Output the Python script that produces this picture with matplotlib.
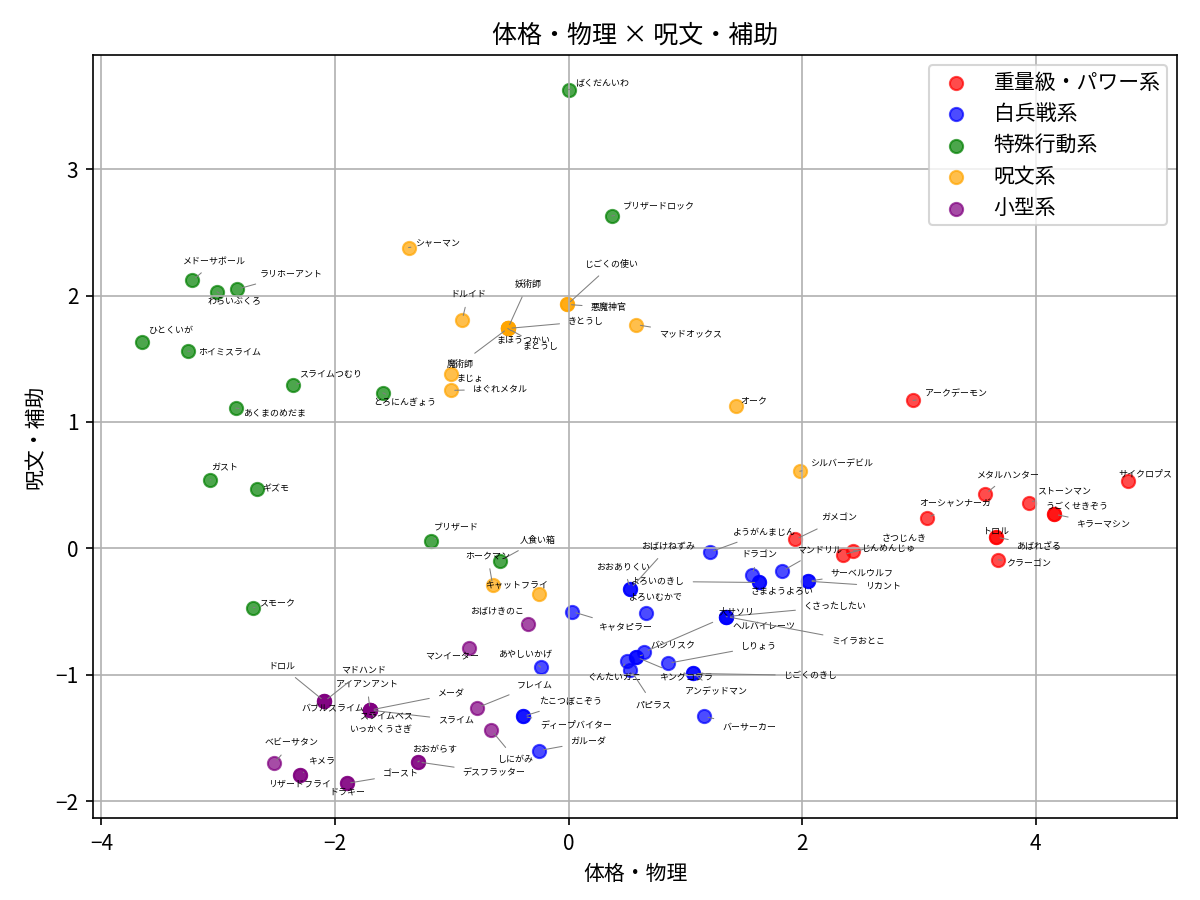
import matplotlib
matplotlib.use("Agg")
import matplotlib.pyplot as plt

plt.rcParams['font.family'] = ['Noto Sans CJK JP', 'DejaVu Sans']

# 重量級・パワー系
heavy_names = ['アークデーモン', 'サイクロプス', 'メタルハンター', 'ストーンマン', 'うごくせきぞう',
               'キラーマシン', 'オーシャンナーガ', 'トロル', 'あばれざる', 'クラーゴン',
               'ガメゴン', 'さつじんき', 'じんめんじゅ']
heavy_x = [2.95, 4.79, 3.57, 3.94, 4.16, 4.16, 3.07, 3.66, 3.66, 3.68, 1.94, 2.35, 2.44]
heavy_y = [1.17, 0.53, 0.43, 0.36, 0.27, 0.27, 0.24, 0.09, 0.09, -0.09, 0.07, -0.05, -0.02]

# 白兵戦系
melee_names = ['ようがんまじん', 'マンドリル', 'ドラゴン', 'よろいのきし', 'さまようよろい',
               'サーベルウルフ', 'リカント', 'おおありくい', 'おばけねずみ', 'よろいむかで',
               'キャタピラー', 'くさったしたい', 'ヘルバイレーツ', 'ミイラおとこ', '大サソリ',
               'バシリスク', 'キングコブラ', 'ぐんたいガニ', 'パピラス', 'しりょう',
               'じごくのきし', 'アンデッドマン', 'バーサーカー', 'あやしいかげ',
               'たこつぼこぞう', 'ディープバイター', 'ガルーダ']
melee_x = [1.21, 1.83, 1.57, 1.63, 1.63, 2.05, 2.05, 0.53, 0.53, 0.66,
           0.03, 1.35, 1.35, 1.35, 0.65, 0.58, 0.58, 0.50, 0.53, 0.85,
           1.07, 1.07, 1.16, -0.24, -0.39, -0.39, -0.25]
melee_y = [-0.03, -0.18, -0.21, -0.27, -0.27, -0.26, -0.26, -0.32, -0.32, -0.51,
           -0.50, -0.54, -0.54, -0.54, -0.82, -0.86, -0.86, -0.89, -0.96, -0.91,
           -0.99, -0.99, -1.33, -0.94, -1.33, -1.33, -1.60]

# 特殊行動系
special_names = ['ばくだんいわ', 'ブリザードロック', 'メドーサボール', 'わらいぶくろ', 'ラリホーアント',
                 'ひとくいが', 'ホイミスライム', 'スライムつむり', 'あくまのめだま', 'とろにんぎょう',
                 'ガスト', 'ギズモ', 'ブリザード', '人食い箱', 'スモーク']
special_x = [0.00, 0.37, -3.22, -3.01, -2.84, -3.65, -3.26, -2.36, -2.85, -1.59,
             -3.07, -2.67, -1.18, -0.59, -2.70]
special_y = [3.63, 2.63, 2.12, 2.03, 2.05, 1.63, 1.56, 1.29, 1.11, 1.23,
             0.54, 0.47, 0.06, -0.10, -0.47]

# 呪文系
spell_names = ['シャーマン', 'ドルイド', 'まほうつかい', 'きとうし', 'まとうし', '妖術師', '魔術師',
               'じごくの使い', '悪魔神官', 'マッドオックス', 'まじょ', 'はぐれメタル', 'オーク',
               'シルバーデビル', 'ホークマン', 'キャットフライ']
spell_x = [-1.37, -0.91, -0.52, -0.52, -0.52, -0.52, -0.52, -0.01, -0.01, 0.58,
           -1.01, -1.01, 1.43, 1.98, -0.65, -0.25]
spell_y = [2.38, 1.81, 1.74, 1.74, 1.74, 1.74, 1.74, 1.93, 1.93, 1.77,
           1.38, 1.25, 1.13, 0.61, -0.29, -0.36]

# 小型系
small_names = ['おばけきのこ', 'マンイーター', 'フレイム', 'しにがみ', 'メーダ', 'スライム',
               'スライムベス', 'いっかくうさぎ', 'アイアンアント', 'ドロル', 'マドハンド',
               'バブルスライム', 'ベビーサタン', 'キメラ', 'リザードフライ', 'ドラキー',
               'ゴースト', 'おおがらす', 'デスフラッター']
small_x = [-0.35, -0.85, -0.78, -0.66, -1.70, -1.70, -1.70, -1.70, -1.70, -2.09, -2.09,
           -2.09, -2.52, -2.30, -2.30, -1.90, -1.90, -1.29, -1.29]
small_y = [-0.60, -0.79, -1.26, -1.44, -1.28, -1.28, -1.28, -1.28, -1.28, -1.21, -1.21,
           -1.21, -1.70, -1.79, -1.79, -1.86, -1.86, -1.69, -1.69]

groups = [
    ('重量級・パワー系', 'red', heavy_names, heavy_x, heavy_y),
    ('白兵戦系', 'blue', melee_names, melee_x, melee_y),
    ('特殊行動系', 'green', special_names, special_x, special_y),
    ('呪文系', 'orange', spell_names, spell_x, spell_y),
    ('小型系', 'purple', small_names, small_x, small_y),
]

# label placement (pixel offsets from the point, y up)
label_offsets = {
    'ばくだんいわ': (34, 6), 'ブリザードロック': (47, 9), 'メドーサボール': (22, 19),
    'わらいぶくろ': (17, -10), 'ラリホーアント': (54, 15), 'ひとくいが': (28, 12),
    'ホイミスライム': (42, -1), 'スライムつむり': (38, 12), 'あくまのめだま': (39, -5),
    'とろにんぎょう': (22, -10), 'ガスト': (15, 12), 'ギズモ': (19, 0),
    'ブリザード': (26, 13), '人食い箱': (38, 21), 'スモーク': (24, 5),
    'シャーマン': (29, 4), 'ドルイド': (6, 25), 'まほうつかい': (16, -11),
    'きとうし': (78, 7), 'まとうし': (33, -18), '妖術師': (20, 44), '魔術師': (-48, -36),
    'じごくの使い': (44, 40), '悪魔神官': (41, -3), 'マッドオックス': (54, -9),
    'まじょ': (19, -5), 'はぐれメタル': (49, 1), 'オーク': (18, 4),
    'シルバーデビル': (42, 8), 'ホークマン': (-5, 29), 'キャットフライ': (-23, 9),
    'アークデーモン': (43, 7), 'サイクロプス': (17, 7), 'メタルハンター': (23, 19),
    'ストーンマン': (35, 12), 'うごくせきぞう': (23, 8), 'キラーマシン': (49, -10),
    'オーシャンナーガ': (28, 14), 'トロル': (0, 6), 'あばれざる': (43, -9),
    'クラーゴン': (30, -4), 'ガメゴン': (44, 21), 'さつじんき': (61, 16),
    'じんめんじゅ': (35, 2),
    'ようがんまじん': (55, 20), 'マンドリル': (37, 21), 'ドラゴン': (7, 20),
    'よろいのきし': (-101, 1), 'さまようよろい': (23, -9), 'サーベルウルフ': (54, 8),
    'リカント': (75, -5), 'おおありくい': (-7, 22), 'おばけねずみ': (38, 42),
    'よろいむかで': (10, 16), 'キャタピラー': (53, -16), 'くさったしたい': (109, 10),
    'ヘルバイレーツ': (38, -10), 'ミイラおとこ': (132, -25), '大サソリ': (92, 40),
    'バシリスク': (37, 12), 'キングコブラ': (50, -21), 'ぐんたいガニ': (-12, -17),
    'パピラス': (23, -35), 'しりょう': (91, 17), 'じごくのきし': (117, -2),
    'アンデッドマン': (23, -18), 'バーサーカー': (45, -10), 'あやしいかげ': (-15, 13),
    'たこつぼこぞう': (48, 15), 'ディープバイター': (53, -9), 'ガルーダ': (49, 9),
    'おばけきのこ': (-31, 12), 'マンイーター': (-17, -8), 'フレイム': (57, 23),
    'しにがみ': (24, -29), 'メーダ': (81, 16), 'スライム': (86, -10),
    'スライムベス': (16, -6), 'いっかくうさぎ': (11, -19), 'アイアンアント': (-3, 26),
    'ドロル': (-43, 35), 'マドハンド': (39, 31), 'バブルスライム': (8, -8),
    'ベビーサタン': (17, 20), 'キメラ': (22, 13), 'リザードフライ': (0, -9),
    'ドラキー': (1, -9), 'ゴースト': (54, 9), 'おおがらす': (17, 12),
    'デスフラッター': (76, -11),
}

fig, ax = plt.subplots(figsize=(8, 6), dpi=150)

for label, color, names, xs, ys in groups:
    ax.scatter(xs, ys, c=color, s=40, alpha=0.7, label=label)

for label, color, names, xs, ys in groups:
    for name, x, y in zip(names, xs, ys):
        dx, dy = label_offsets[name]
        # only draw a leader line when the label sits clear of its point
        far = abs(dx) > 4.7 * len(name) + 5 or abs(dy) > 9
        ax.annotate(name, (x, y), xytext=(dx, dy), textcoords='offset pixels',
                    ha='center', va='center', fontsize=4.3,
                    arrowprops=dict(arrowstyle='-', color='gray', lw=0.5) if far else None)

ax.set_title('体格・物理 × 呪文・補助')
ax.set_xlabel('体格・物理')
ax.set_ylabel('呪文・補助')
ax.grid(True)
ax.legend(loc='upper right', labelspacing=0.45, borderpad=0.3)

fig.subplots_adjust(left=0.0775, right=0.981, bottom=0.091, top=0.939)
fig.savefig('out.png', dpi=150)
